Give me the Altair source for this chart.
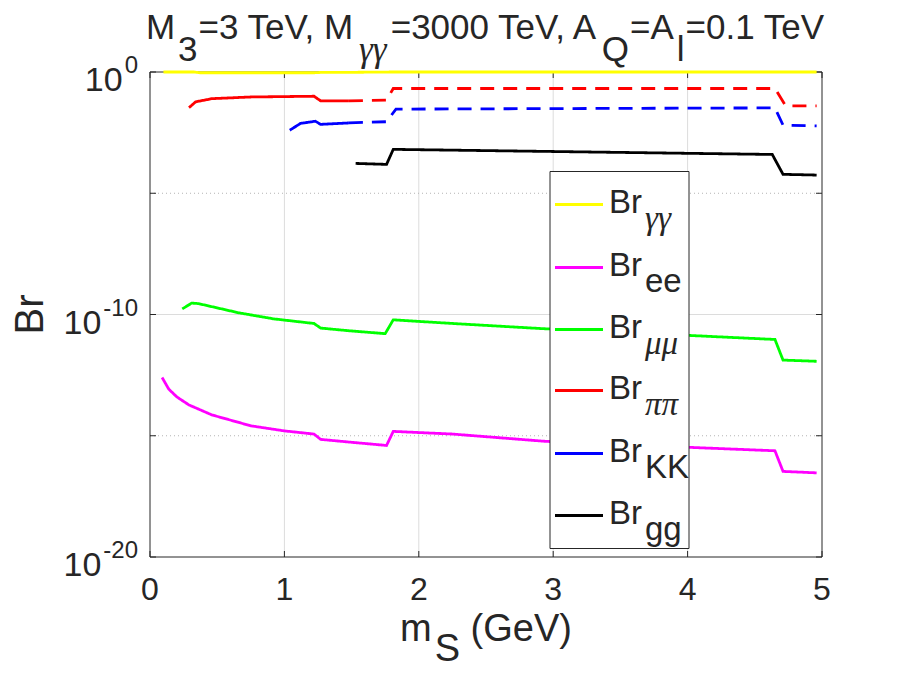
import altair as alt
import pandas as pd

# ---------------- data ----------------
yy_x = [0.10, 0.33, 0.37, 1.22, 1.27, 1.50, 1.80, 3.00, 4.96]
yy_br = [1.0, 1.0, 0.93, 0.93, 0.96, 0.97, 1.0, 1.0, 1.0]

ee_x = [0.09, 0.14, 0.20, 0.29, 0.46, 0.75, 1.00, 1.22, 1.27, 1.48, 1.76, 1.81, 2.25, 2.94, 4.02, 4.65, 4.71, 4.96]
ee_log = [-12.60, -13.08, -13.40, -13.73, -14.14, -14.59, -14.80, -14.93, -15.15, -15.26, -15.40, -14.82, -14.93, -15.23, -15.48, -15.62, -16.47, -16.53]

mm_x = [0.24, 0.31, 0.36, 0.66, 0.92, 1.22, 1.27, 1.48, 1.75, 1.81, 2.25, 2.91, 4.00, 4.65, 4.71, 4.96]
mm_log = [-9.77, -9.53, -9.55, -9.93, -10.18, -10.37, -10.56, -10.67, -10.79, -10.22, -10.37, -10.58, -10.86, -11.03, -11.88, -11.93]

pp_solid_x = [0.29, 0.34, 0.46, 0.75, 1.22, 1.27, 1.48]
pp_solid_log = [-1.47, -1.23, -1.10, -1.03, -1.00, -1.19, -1.19]
pp_dash_x = [1.48, 1.76, 1.81, 4.65, 4.73, 4.96]
pp_dash_log = [-1.19, -1.16, -0.68, -0.68, -1.40, -1.40]

kk_solid_x = [1.04, 1.12, 1.23, 1.27, 1.48]
kk_solid_log = [-2.40, -2.12, -2.03, -2.16, -2.10]
kk_dash_x = [1.48, 1.76, 1.83, 4.65, 4.71, 4.96]
kk_dash_log = [-2.10, -2.05, -1.53, -1.48, -2.19, -2.22]

gg_x = [1.53, 1.76, 1.81, 4.63, 4.71, 4.96]
gg_log = [-3.77, -3.81, -3.19, -3.40, -4.22, -4.25]

series_keys = ["γγ", "ee", "μμ", "ππ", "KK", "gg"]
series_colors = ["#ffff00", "#ff00ff", "#00ff00", "#ff0000", "#0000ff", "#000000"]

x_ticks = [0, 1, 2, 3, 4, 5]
x_tick_labels = ["0", "1", "2", "3", "4", "5"]
x_grid = [1, 2, 3, 4]
y_ticks = [1e-20, 1e-15, 1e-10, 1e-5, 1.0]
y_grid = [1e-10]
y_minor = [1e-15, 1e-5]
y_tick_labels = [(1.0, "0"), (1e-10, "-10"), (1e-20, "-20")]

# ---------------- table ----------------
rows = []
def add(name, seg, xs, vals, is_log=True):
    for i, (x, v) in enumerate(zip(xs, vals)):
        rows.append(dict(series=name, seg=seg, key=name + "_" + seg, x=x,
                         br=10 ** v if is_log else v, i=i))

add("γγ", "solid", yy_x, yy_br, is_log=False)
add("ee", "solid", ee_x, ee_log)
add("μμ", "solid", mm_x, mm_log)
add("ππ", "solid", pp_solid_x, pp_solid_log)
add("ππ", "dashed", pp_dash_x, pp_dash_log)
add("KK", "solid", kk_solid_x, kk_solid_log)
add("KK", "dashed", kk_dash_x, kk_dash_log)
add("gg", "solid", gg_x, gg_log)
df = pd.DataFrame(rows)

# ---------------- styling ----------------
W, H = 672, 485
FONT = "Liberation Sans"
GREEK = "Liberation Serif"
INK = "#262626"
GRID = "#dcdcdc"
LW = 2.8

xs = alt.Scale(domain=[0, 5], nice=False, zero=False)
ys = alt.Scale(type="log", domain=[1e-20, 1.0], nice=False)

# Arial-compatible advance widths (per 1000 em)
WID = {' ': 278, ',': 278, '.': 278, '=': 584, '-': 333, '(': 333, ')': 333,
       'A': 667, 'B': 667, 'G': 778, 'K': 667, 'M': 833, 'Q': 778, 'S': 667,
       'T': 611, 'V': 667, 'e': 556, 'g': 556, 'l': 222, 'm': 833, 'r': 333,
       'γ': 440, 'μ': 520, 'π': 520}
KERN = {"Te": 0.07, "V,": 0.074, " A": 0.055}
def tw(s, size):
    w = sum(WID.get(c, 556) for c in s) / 1000.0 * size
    for pair, k in KERN.items():
        w -= s.count(pair) * k * size
    return w

def one():
    return pd.DataFrame({"a": [0]})

def txt(s, x, y, size, align="left", font=FONT, style="normal", angle=0, baseline="alphabetic"):
    return alt.Chart(pd.DataFrame({"t": [s]})).mark_text(
        align=align, baseline=baseline, font=font, fontSize=size, fontStyle=style,
        angle=angle, color=INK
    ).encode(x=alt.value(x), y=alt.value(y), text="t:N")

layers = []

# grid
layers.append(
    alt.Chart(pd.DataFrame({"v": x_grid})).mark_rule(color=GRID, strokeWidth=1)
    .encode(x=alt.X("v:Q", scale=xs, axis=None), y=alt.value(0), y2=alt.value(H))
)
layers.append(
    alt.Chart(pd.DataFrame({"v": y_grid})).mark_rule(color=GRID, strokeWidth=1)
    .encode(y=alt.Y("v:Q", scale=ys, axis=None), x=alt.value(0), x2=alt.value(W))
)
layers.append(
    alt.Chart(pd.DataFrame({"v": y_minor})).mark_rule(color="#b4b4b4", strokeWidth=1, strokeDash=[1, 3])
    .encode(y=alt.Y("v:Q", scale=ys, axis=None), x=alt.value(0), x2=alt.value(W))
)

# box
for enc in [dict(x=alt.value(0), x2=alt.value(W), y=alt.value(0)),
            dict(x=alt.value(0), x2=alt.value(W), y=alt.value(H)),
            dict(x=alt.value(0), y=alt.value(0), y2=alt.value(H)),
            dict(x=alt.value(W), y=alt.value(0), y2=alt.value(H))]:
    layers.append(alt.Chart(one()).mark_rule(color=INK, strokeWidth=1).encode(**enc))

# inward ticks
tdf = pd.DataFrame({"t": x_ticks, "lab": x_tick_labels})
layers.append(alt.Chart(tdf).mark_rule(color=INK).encode(x=alt.X("t:Q", scale=xs, axis=None), y=alt.value(H), y2=alt.value(H - 6)))
layers.append(alt.Chart(tdf).mark_rule(color=INK).encode(x=alt.X("t:Q", scale=xs, axis=None), y=alt.value(0), y2=alt.value(6)))
ydf = pd.DataFrame({"v": y_ticks})
layers.append(alt.Chart(ydf).mark_rule(color=INK).encode(y=alt.Y("v:Q", scale=ys, axis=None), x=alt.value(0), x2=alt.value(6)))
layers.append(alt.Chart(ydf).mark_rule(color=INK).encode(y=alt.Y("v:Q", scale=ys, axis=None), x=alt.value(W), x2=alt.value(W - 6)))

# data lines
layers.append(alt.Chart(df).mark_line(strokeWidth=LW, clip=False).encode(
    x=alt.X("x:Q", scale=xs, axis=None),
    y=alt.Y("br:Q", scale=ys, axis=None),
    color=alt.Color("series:N", scale=alt.Scale(domain=series_keys, range=series_colors), legend=None),
    strokeDash=alt.StrokeDash("seg:N", scale=alt.Scale(domain=["solid", "dashed"], range=[[1, 0], [14, 9]]),
                              legend=None),
    detail="key:N",
    order="i:Q",
))

# x tick labels
layers.append(alt.Chart(tdf).mark_text(align="center", baseline="alphabetic", font=FONT, fontSize=32, color=INK)
              .encode(x=alt.X("t:Q", scale=xs, axis=None), y=alt.value(H + 43), text="lab:N"))

# y tick labels 10^n
MAIN_T, SUP_T = 34, 24
for val, sup in y_tick_labels:
    sup_right = -12
    main_right = sup_right - tw(sup, SUP_T) - 2
    d = pd.DataFrame({"v": [val], "m": ["10"], "s": [sup]})
    layers.append(alt.Chart(d).mark_text(align="right", baseline="alphabetic", font=FONT, fontSize=MAIN_T,
                                         color=INK, dy=19)
                  .encode(y=alt.Y("v:Q", scale=ys, axis=None), x=alt.value(main_right), text="m:N"))
    layers.append(alt.Chart(d).mark_text(align="right", baseline="alphabetic", font=FONT, fontSize=SUP_T,
                                         color=INK, dy=1)
                  .encode(y=alt.Y("v:Q", scale=ys, axis=None), x=alt.value(sup_right), text="s:N"))

# title with subscripts
FT = 35
title_segs = [("M", 0, FONT, "normal"), ("3", 1, FONT, "normal"), ("=3 TeV, M", 0, FONT, "normal"),
              ("γγ", 1, GREEK, "italic"), ("=3000 TeV, A", 0, FONT, "normal"), ("Q", 1, FONT, "normal"),
              ("=A", 0, FONT, "normal"), ("l", 1, FONT, "normal"), ("=0.1 TeV", 0, FONT, "normal")]
pos = []
cur = 0.0
for s, sub, f, st in title_segs:
    if sub:
        cur += 3
    pos.append(cur)
    cur += tw(s, FT) + (1 if sub else 0)
start = W / 2 - cur / 2
for (s, sub, f, st), p in zip(title_segs, pos):
    layers.append(txt(s, start + p, -11 if sub else -33.5, FT, font=f, style=st))

# x title
FX = 38
xt_segs = [("m", 0, 0), ("S", 1, 3), ("(GeV)", 0, tw(" ", 38))]
cur = 0.0
pos = []
for s, sub, gap in xt_segs:
    cur += gap
    pos.append(cur)
    cur += tw(s, FX)
start = W / 2 - cur / 2
for (s, sub, gap), p in zip(xt_segs, pos):
    layers.append(txt(s, start + p, H + 103.5 if sub else H + 83.5, FX))

# y title
layers.append(txt("Br", -107, H / 2, 40, align="center", angle=270))

# legend
LX0, LX1, LY0, LY1 = 400, 539, 99.5, 476.5
layers.append(alt.Chart(one()).mark_rect(fill="white", stroke=INK, strokeWidth=1)
              .encode(x=alt.value(LX0), x2=alt.value(LX1), y=alt.value(LY0), y2=alt.value(LY1)))
row_y = [132.5, 195.5, 257.5, 318.5, 381.5, 443.5]
FL = 33
for k, c, ly in zip(series_keys, series_colors, row_y):
    layers.append(alt.Chart(one()).mark_rule(color=c, strokeWidth=LW)
                  .encode(x=alt.value(405), x2=alt.value(453), y=alt.value(ly)))
    layers.append(txt("Br", 459, ly + 8, FL))
    greek = k in ("γγ", "μμ", "ππ")
    layers.append(txt(k, 495, ly + 24.5, FL, font=GREEK if greek else FONT,
                      style="italic" if greek else "normal"))

chart = alt.layer(*layers).properties(
    width=W, height=H,
    padding={"left": 142, "top": 64, "right": 82, "bottom": 120},
    autosize=alt.AutoSizeParams(type="none"),
    background="white",
).configure_view(stroke=None)

chart.save("out.html", embed_options={"renderer": "svg", "actions": False})
